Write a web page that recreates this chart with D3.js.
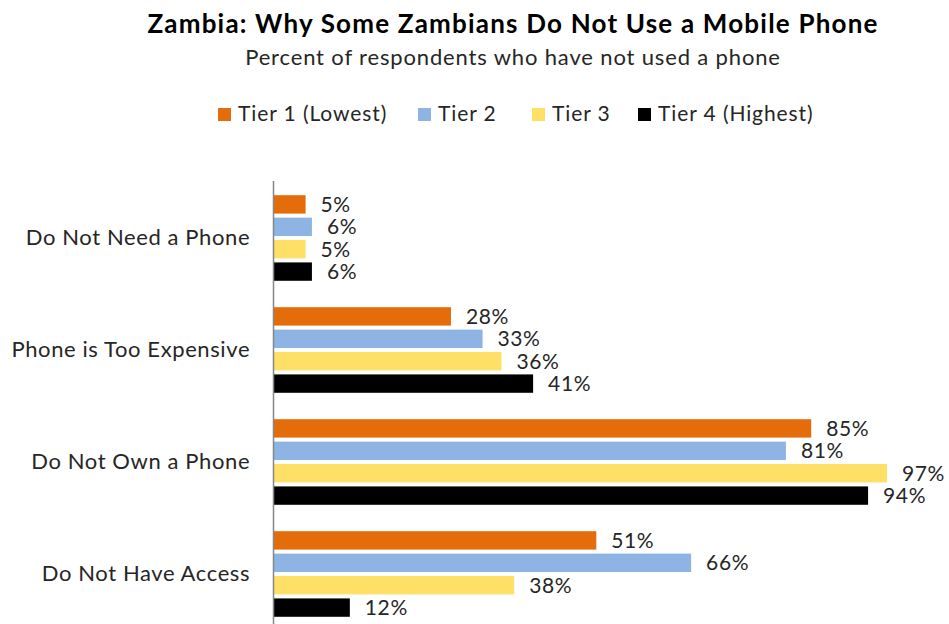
<!DOCTYPE html>
<html>
<head>
<meta charset="utf-8">
<script src="https://cdn.jsdelivr.net/npm/d3@7"></script>
<style>
  html, body { margin: 0; padding: 0; background: #fff; }
  svg { display: block; font-family: Lato, "Open Sans", sans-serif; }
</style>
</head>
<body>
<svg id="chart" width="949" height="624"></svg>
<script>
// Reasons for not using a mobile phone, by income tier
const categories = ["Do Not Need a Phone", "Phone is Too Expensive", "Do Not Own a Phone", "Do Not Have Access"];
const tiers = ["Tier 1 (Lowest)", "Tier 2", "Tier 3", "Tier 4 (Highest)"];
const tier1 = [5, 28, 85, 51];
const tier2 = [6, 33, 81, 66];
const tier3 = [5, 36, 97, 38];
const tier4 = [6, 41, 94, 12];
const tierColors = ["#E46C0A", "#8DB4E2", "#FFE066", "#000000"];

const seriesValues = [tier1, tier2, tier3, tier4];
const rows = categories.map((c, i) => ({
  category: c,
  values: tiers.map((t, j) => ({ tier: t, value: seriesValues[j][i] }))
}));

const svg = d3.select("#chart");
const textColor = "#262626";

// Title block
svg.append("text")
  .attr("x", 513).attr("y", 33)
  .attr("text-anchor", "middle")
  .attr("font-size", 26).attr("font-weight", 700)
  .attr("letter-spacing", 1.2)
  .attr("fill", "#000")
  .text("Zambia: Why Some Zambians Do Not Use a Mobile Phone");

svg.append("text")
  .attr("x", 513).attr("y", 65)
  .attr("text-anchor", "middle")
  .attr("font-size", 22)
  .attr("letter-spacing", 0.85)
  .attr("fill", textColor)
  .text("Percent of respondents who have not used a phone");

// Legend
const legendX = [218, 418, 532, 638];
const legend = svg.append("g");
tiers.forEach((t, i) => {
  const g = legend.append("g").attr("transform", `translate(${legendX[i]},108)`);
  g.append("rect").attr("width", 13).attr("height", 13).attr("fill", tierColors[i]);
  g.append("text").attr("x", 20).attr("y", 13)
    .attr("font-size", 21).attr("letter-spacing", 0.9)
    .attr("fill", textColor).text(t);
});

// Scales
const x = d3.scaleLinear().domain([0, 100]).range([274, 906]);
const y = d3.scaleBand().domain(categories).range([182, 630]).paddingInner(0.2).paddingOuter(0.1);
const yInner = d3.scaleBand().domain(tiers).range([0, y.bandwidth()]).paddingInner(0.18).paddingOuter(0.09);
const color = d3.scaleOrdinal().domain(tiers).range(tierColors);

// Bars
const groups = svg.append("g").selectAll("g")
  .data(rows).join("g")
  .attr("transform", d => `translate(0,${y(d.category)})`);

groups.selectAll("rect")
  .data(d => d.values).join("rect")
  .attr("x", x(0))
  .attr("y", d => yInner(d.tier))
  .attr("width", d => x(d.value) - x(0))
  .attr("height", yInner.bandwidth())
  .attr("fill", d => color(d.tier));

groups.selectAll("text.value")
  .data(d => d.values).join("text")
  .attr("class", "value")
  .attr("x", d => x(d.value) + 15)
  .attr("y", d => yInner(d.tier) + yInner.bandwidth() / 2)
  .attr("dy", "0.36em")
  .attr("font-size", 21)
  .attr("letter-spacing", 0.6)
  .attr("fill", textColor)
  .text(d => d.value + "%");

// Category axis
const axis = svg.append("g")
  .attr("transform", `translate(${x(0) - 0.5},0)`)
  .call(d3.axisLeft(y).tickSize(0).tickPadding(24));
axis.select(".domain").attr("stroke", "#868686").attr("stroke-width", 1.5)
  .attr("d", `M0,181V624`);
axis.selectAll(".tick text")
  .attr("font-size", 22)
  .attr("letter-spacing", 0.6)
  .attr("dx", 0.6)
  .attr("font-family", "Lato, 'Open Sans', sans-serif")
  .attr("fill", textColor);
</script>
</body>
</html>
